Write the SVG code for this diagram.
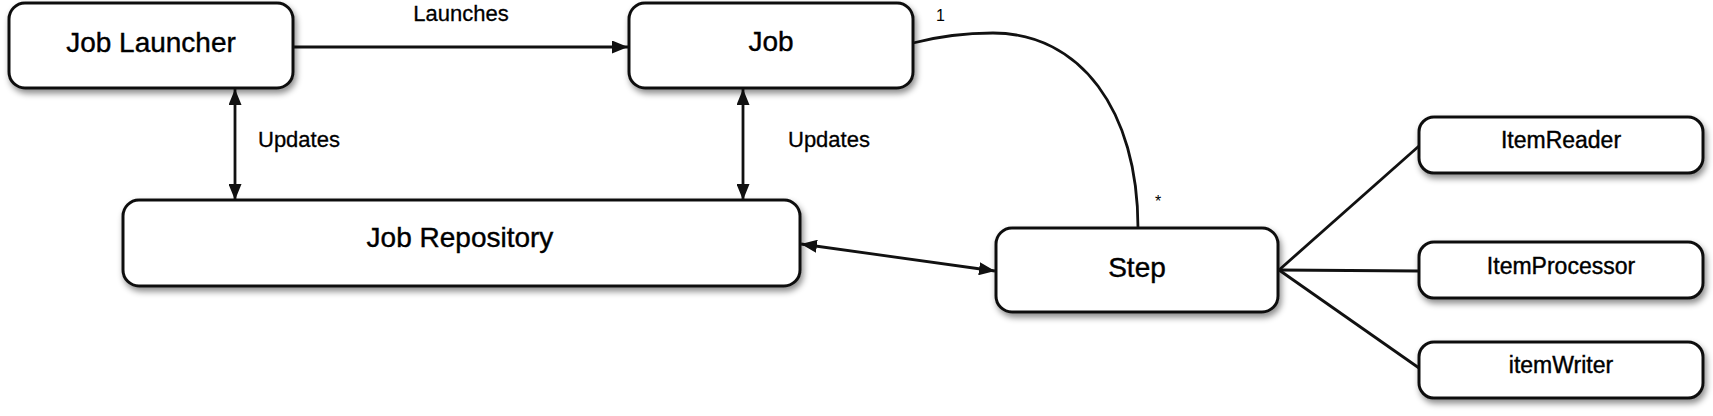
<svg xmlns="http://www.w3.org/2000/svg" width="1713" height="416" viewBox="0 0 1713 416">
<defs>
<style>
.box{fill:#fff;stroke:#111;stroke-width:3;filter:url(#sh)}
.lbl{font-family:"Liberation Sans",Arial,sans-serif;fill:#000;stroke:#000;stroke-width:0.4;text-anchor:middle}
.big{font-size:28px}
.itm{font-size:23px}
.edge{font-family:"Liberation Sans",Arial,sans-serif;fill:#000;stroke:#000;stroke-width:0.3;font-size:22px}
.small{font-family:"Liberation Sans",Arial,sans-serif;fill:#000;font-size:16px}
.con{fill:none;stroke:#111;stroke-width:2.8}
</style>
<filter id="sh" x="-10%" y="-20%" width="120%" height="150%">
<feDropShadow dx="2" dy="4" stdDeviation="3" flood-color="#000" flood-opacity="0.45"/>
</filter>
<marker id="ah" markerUnits="userSpaceOnUse" markerWidth="17" markerHeight="13" refX="16" refY="6.5" orient="auto-start-reverse">
<path d="M0,0 L16,6.5 L0,13 z" fill="#111"/>
</marker>
</defs>
<rect width="1713" height="416" fill="#fff"/>
<g id="connectors">
<line class="con" x1="293" y1="47" x2="628" y2="47" marker-end="url(#ah)"/>
<line class="con" x1="235" y1="89" x2="235" y2="200" marker-start="url(#ah)" marker-end="url(#ah)"/>
<line class="con" x1="743" y1="89" x2="743" y2="200" marker-start="url(#ah)" marker-end="url(#ah)"/>
<line class="con" x1="801" y1="244" x2="995" y2="271" marker-start="url(#ah)" marker-end="url(#ah)"/>
<path class="con" d="M913,43 C940,36 965,33 993,33 C1080,33 1138,110 1138,228"/>
<line class="con" x1="1279" y1="270" x2="1419" y2="146"/>
<line class="con" x1="1279" y1="270" x2="1419" y2="271"/>
<line class="con" x1="1279" y1="270" x2="1419" y2="368"/>
<text class="edge" x="461" y="21" text-anchor="middle">Launches</text>
<text class="edge" x="258" y="147">Updates</text>
<text class="edge" x="788" y="147">Updates</text>
<text class="small" x="936" y="21">1</text>
<text class="small" x="1155" y="207">*</text>
</g>
<g id="job-launcher">
<rect class="box" x="9" y="3" width="284" height="85" rx="16"/>
<text class="lbl big" x="151" y="52">Job Launcher</text>
</g>
<g id="job">
<rect class="box" x="629" y="3" width="284" height="85" rx="16"/>
<text class="lbl big" x="771" y="51">Job</text>
</g>
<g id="job-repository">
<rect class="box" x="123" y="200" width="677" height="86" rx="16"/>
<text class="lbl big" x="460" y="247">Job Repository</text>
</g>
<g id="step">
<rect class="box" x="996" y="228" width="282" height="84" rx="16"/>
<text class="lbl big" x="1137" y="277">Step</text>
</g>
<g id="item-reader">
<rect class="box" x="1419" y="117" width="284" height="56" rx="15"/>
<text class="lbl itm" x="1561" y="148">ItemReader</text>
</g>
<g id="item-processor">
<rect class="box" x="1419" y="242" width="284" height="56" rx="15"/>
<text class="lbl itm" x="1561" y="274">ItemProcessor</text>
</g>
<g id="item-writer">
<rect class="box" x="1419" y="342" width="284" height="56" rx="15"/>
<text class="lbl itm" x="1561" y="373">itemWriter</text>
</g>
</svg>
